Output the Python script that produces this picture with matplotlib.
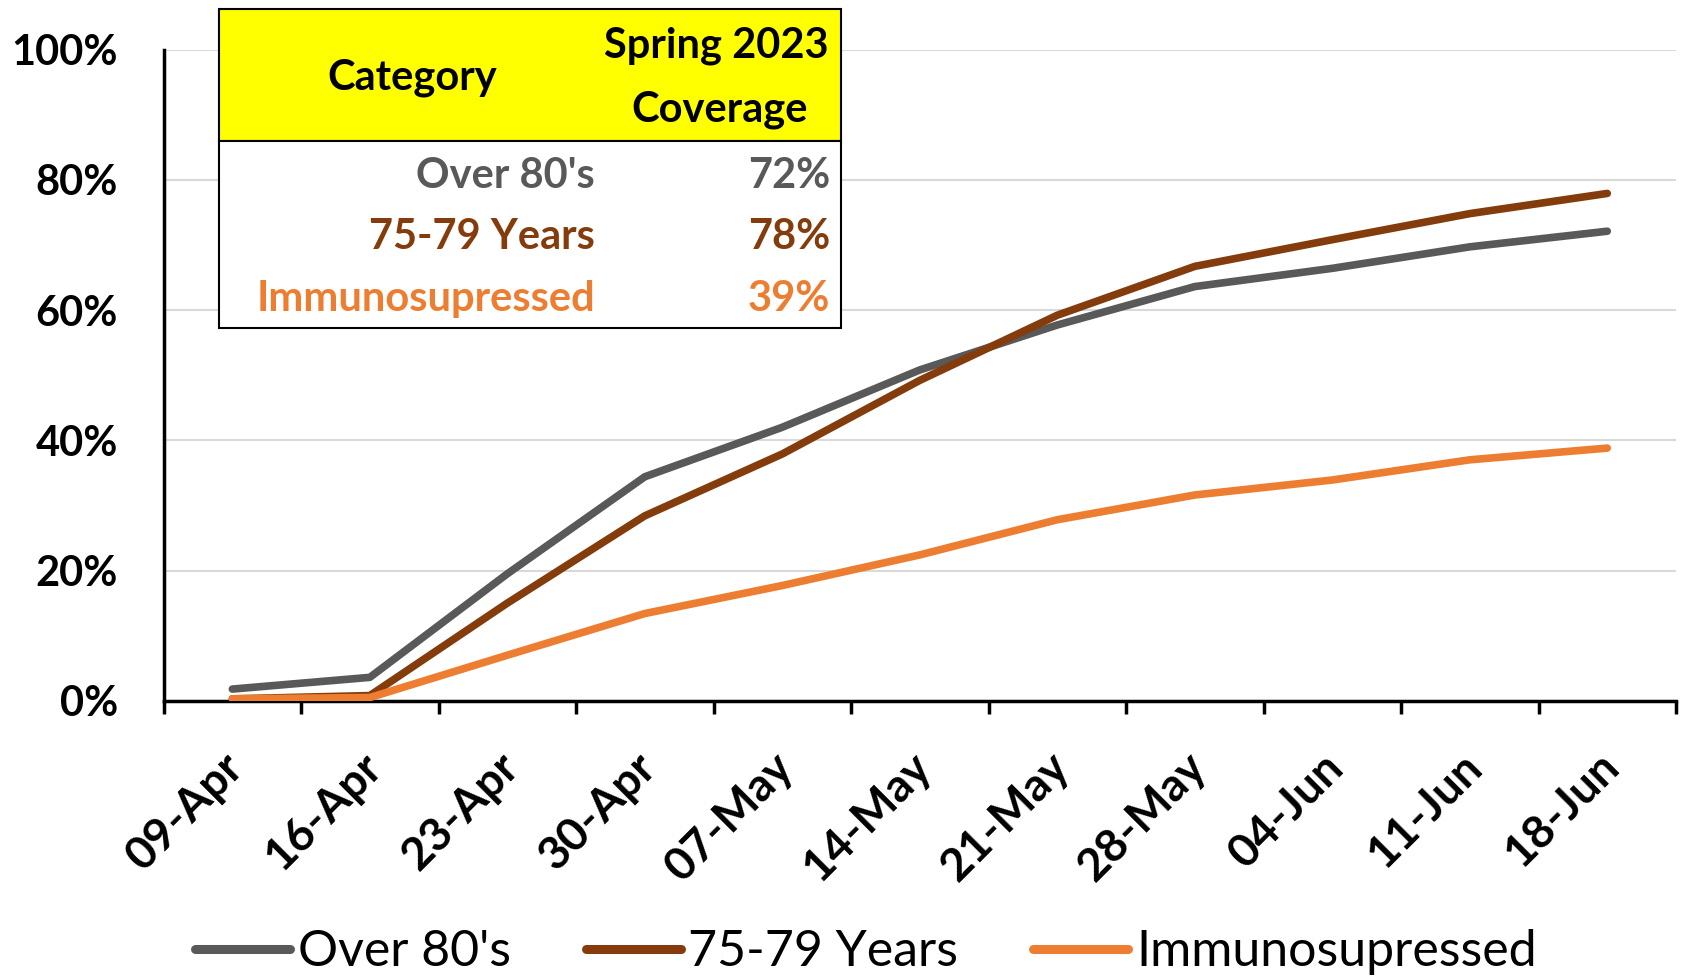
import matplotlib
matplotlib.use("Agg")
import matplotlib.pyplot as plt
from matplotlib.patches import Rectangle
from matplotlib.ticker import FixedLocator, PercentFormatter
from matplotlib.transforms import ScaledTranslation

plt.rcParams['font.family'] = ['Lato', 'DejaVu Sans']

dates = ["09-Apr", "16-Apr", "23-Apr", "30-Apr", "07-May", "14-May",
         "21-May", "28-May", "04-Jun", "11-Jun", "18-Jun"]
over80 = [1.8, 3.6, 19.5, 34.4, 42.0, 50.8, 57.7, 63.6, 66.4, 69.7, 72.1]
y75_79 = [0.3, 0.8, 15.0, 28.4, 37.9, 49.2, 59.2, 66.7, 70.8, 74.8, 77.9]
immuno = [0.3, 0.5, 7.0, 13.4, 17.7, 22.4, 27.8, 31.6, 33.9, 37.0, 38.8]

series_names = ["Over 80's", "75-79 Years", "Immunosupressed"]
coverage_labels = ["72%", "78%", "39%"]
colors = ["#595959", "#843C0C", "#ED7D31"]

W, H = 1688, 977
fig = plt.figure(figsize=(W / 100, H / 100), dpi=100)
ax = fig.add_axes([163.6 / W, 1 - 700.8 / H, (1676 - 163.6) / W, (700.8 - 49.5) / H])

x = list(range(len(dates)))
for vals, name, c in zip([over80, y75_79, immuno], series_names, colors):
    ax.plot(x, [v / 100 for v in vals], color=c, lw=5.5, label=name,
            solid_capstyle='round', solid_joinstyle='round', zorder=3)

ax.set_xlim(-0.5, len(dates) - 0.5)
ax.set_ylim(0, 1)
ax.set_yticks([0, 0.2, 0.4, 0.6, 0.8, 1.0])
ax.yaxis.set_major_formatter(PercentFormatter(1.0, decimals=0))
ax.grid(axis='y', color='#D9D9D9', lw=1.5, zorder=0)
ax.set_axisbelow(True)
for s in ['top', 'right']:
    ax.spines[s].set_visible(False)
for s in ['left', 'bottom']:
    ax.spines[s].set_linewidth(2.5)
    ax.spines[s].set_color('black')

ax.set_xticks(x)
ax.set_xticklabels(dates, rotation=45, ha='right', rotation_mode='anchor',
                   fontsize=33, fontweight='bold')
ax.xaxis.set_minor_locator(FixedLocator([i - 0.5 for i in range(len(dates) + 1)]))
ax.tick_params(axis='x', which='major', length=0, pad=32)
ax.tick_params(axis='x', which='minor', length=9, width=2.5, color='black')
ax.tick_params(axis='y', length=0, pad=33, labelsize=30)
for lbl in ax.get_yticklabels():
    lbl.set_fontweight('bold')
shift = ScaledTranslation(-0.1, 0, fig.dpi_scale_trans)
for lbl in ax.get_xticklabels():
    lbl.set_transform(lbl.get_transform() + shift)

# Legend
leg = fig.legend(loc='center', bbox_to_anchor=(0.513, 1 - 952 / H), ncol=3,
                 frameon=False, fontsize=36, handlelength=1.9, columnspacing=1.5,
                 handletextpad=0.15)
for line in leg.get_lines():
    line.set_linewidth(6.5)

# Table box
def fx(px):
    return px / W

def fy(py):
    return 1 - py / H

tl, tr, tt, thb, tb = 218.5, 840.8, 8.6, 141, 328.3
fig.add_artist(Rectangle((fx(tl), fy(thb)), fx(tr) - fx(tl), fy(tt) - fy(thb),
                         transform=fig.transFigure, facecolor='#FFFF00',
                         edgecolor='black', lw=1.5, zorder=5))
fig.add_artist(Rectangle((fx(tl), fy(tb)), fx(tr) - fx(tl), fy(thb) - fy(tb),
                         transform=fig.transFigure, facecolor='white',
                         edgecolor='black', lw=1.5, zorder=5))
fs_tab = 30
fig.text(fx(412), fy(77.5), "Category", ha='center', va='center',
         fontsize=fs_tab, fontweight='bold', color='black', zorder=6)
fig.text(fx(829), fy(46), "Spring 2023", ha='right', va='center',
         fontsize=fs_tab, fontweight='bold', color='black', zorder=6)
fig.text(fx(720), fy(110), "Coverage", ha='center', va='center',
         fontsize=fs_tab, fontweight='bold', color='black', zorder=6)
row_y = [175.5, 237, 299]
for name, cov, c, ry in zip(series_names, coverage_labels, colors, row_y):
    fig.text(fx(595), fy(ry), name, ha='right', va='center', fontsize=fs_tab,
             fontweight='bold', color=c, zorder=6)
    fig.text(fx(830), fy(ry), cov, ha='right', va='center', fontsize=fs_tab,
             fontweight='bold', color=c, zorder=6)

fig.savefig("out.png", dpi=100)
